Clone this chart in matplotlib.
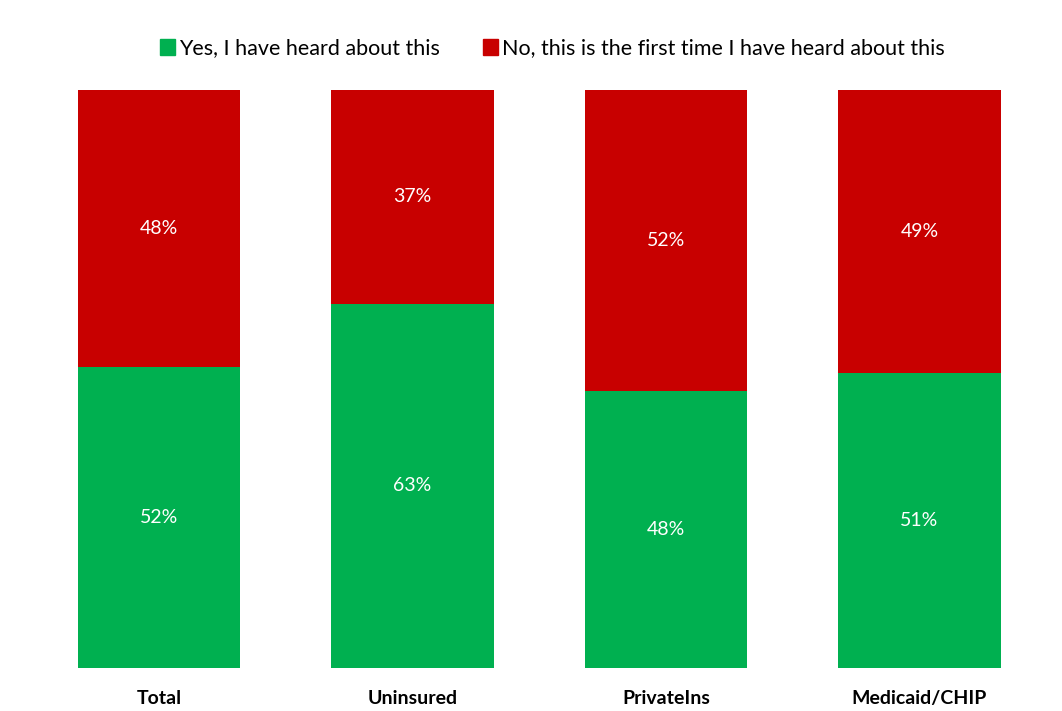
import matplotlib.pyplot as plt
from matplotlib.patches import Patch

plt.rcParams['font.family'] = ['Lato', 'DejaVu Sans']

categories = ['Total', 'Uninsured', 'PrivateIns', 'Medicaid/CHIP']
yes_vals = [52, 63, 48, 51]
no_vals = [48, 37, 52, 49]

green = '#00B050'
red = '#C80000'

fig = plt.figure(figsize=(10.62, 7.11), dpi=100)
ax = fig.add_axes([0, 0.0605, 1, 0.8129])

x = range(len(categories))
ax.bar(x, yes_vals, width=0.64, color=green)
ax.bar(x, no_vals, width=0.64, bottom=yes_vals, color=red)

for i in x:
    ax.text(i, yes_vals[i] / 2, f'{yes_vals[i]}%', ha='center', va='center',
            color='white', fontsize=14)
    ax.text(i, yes_vals[i] + no_vals[i] / 2, f'{no_vals[i]}%', ha='center', va='center',
            color='white', fontsize=14)

ax.set_xlim(-159 / 253.5, (1062 - 159) / 253.5)
ax.set_ylim(0, 100)
ax.set_xticks(list(x))
ax.set_xticklabels(categories, fontsize=14, fontweight='bold')
ax.tick_params(axis='x', length=0, pad=16)
ax.set_yticks([])
for s in ax.spines.values():
    s.set_visible(False)

handles = [Patch(color=green, label='Yes, I have heard about this'),
           Patch(color=red, label='No, this is the first time I have heard about this')]
fig.legend(handles=handles, loc='center', bbox_to_anchor=(0.52, 0.932), ncol=2,
           frameon=False, fontsize=15.5, handlelength=0.7, handleheight=0.8,
           handletextpad=0.2, columnspacing=2.0)

fig.savefig('out.png', dpi=100)
